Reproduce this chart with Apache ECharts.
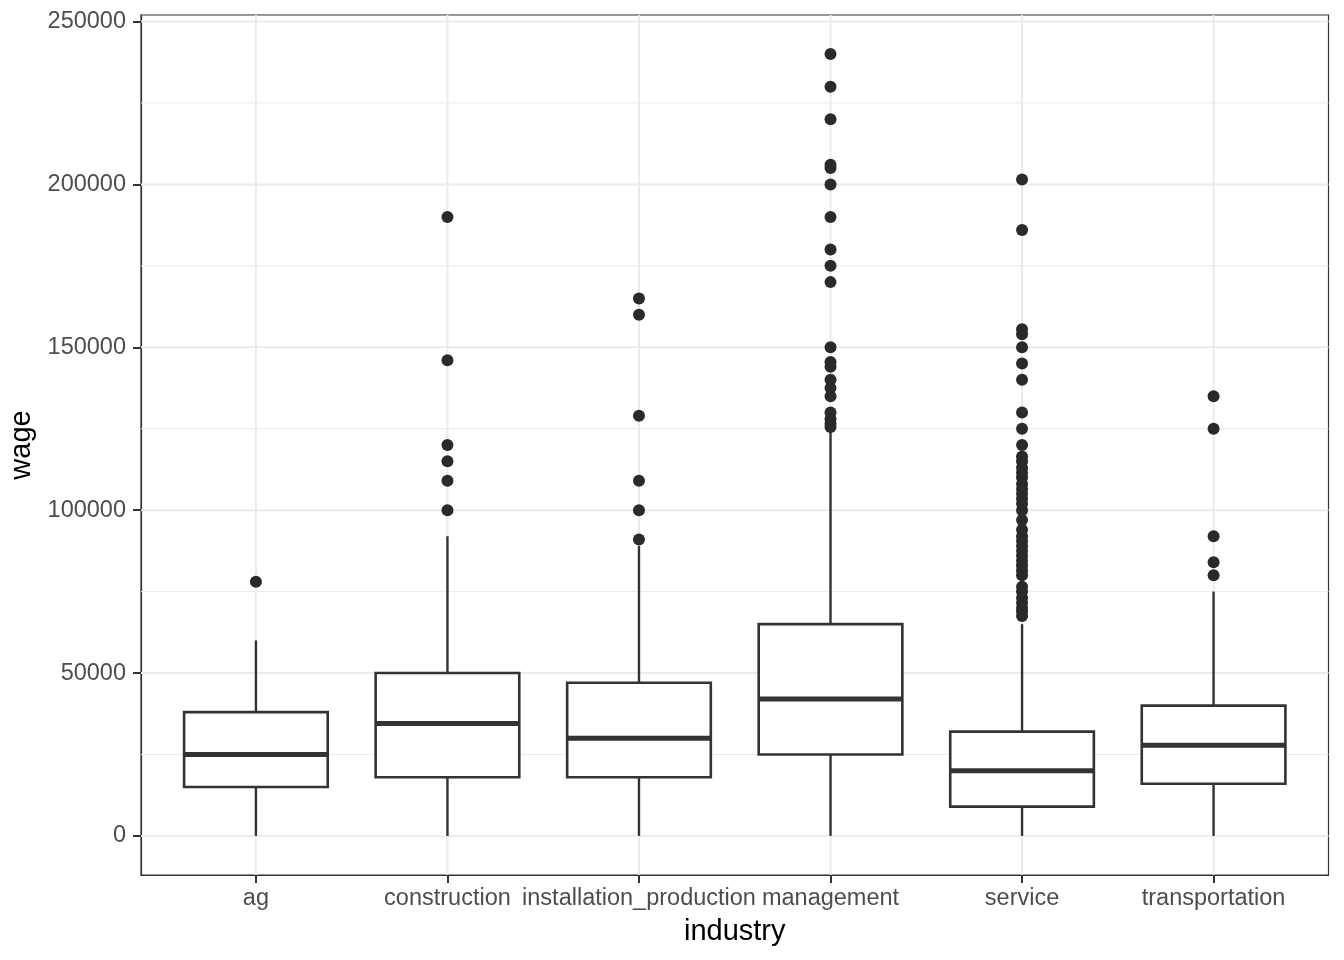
<!DOCTYPE html>
<html>
<head>
<meta charset="utf-8">
<script src="https://cdn.jsdelivr.net/npm/echarts@6/dist/echarts.min.js"></script>
<style>
html, body { margin: 0; padding: 0; background: #ffffff; }
#chart { width: 1344px; height: 960px; }
</style>
</head>
<body>
<div id="chart"></div>
<script>
// ---- data ----
const categories = ['ag', 'construction', 'installation_production', 'management', 'service', 'transportation'];
const lowerWhisker = [0, 0, 0, 0, 0, 0];
const q1 = [15000, 18000, 18000, 25000, 9000, 16000];
const median = [25000, 34500, 30000, 42000, 20000, 27800];
const q3 = [38000, 50000, 47000, 65000, 32000, 40000];
const upperWhisker = [60000, 92000, 89000, 124000, 65000, 75000];

const outliersAg = [78000];
const outliersConstruction = [100000, 109000, 115000, 120000, 146000, 190000];
const outliersInstallation = [91000, 100000, 109000, 129000, 160000, 165000];
const outliersManagement = [125500, 126500, 128000, 130000, 135000, 137500, 140000, 144000, 145500, 150000,
  170000, 175000, 180000, 190000, 200000, 205000, 206000, 220000, 230000, 240000];
const outliersService = [67500, 69000, 70000, 71500, 73000, 75000, 76500,
  80000, 81500, 83000, 84500, 86000, 87500, 89000, 90500, 92000, 94000,
  97000, 100000, 102000, 103500, 105000, 106500, 108000, 110000, 111500, 113000, 115000, 116500,
  120000, 125000, 130000, 140000, 145000, 150000, 154000, 155500, 186000, 201500];
const outliersTransportation = [80000, 84000, 92000, 125000, 135000];

const yTickValues = [0, 50000, 100000, 150000, 200000, 250000];
const yMinorGrid = [25000, 75000, 125000, 175000, 225000];
const xTickValues = [1, 2, 3, 4, 5, 6];

// ---- derived ----
const outliers = [outliersAg, outliersConstruction, outliersInstallation, outliersManagement, outliersService, outliersTransportation];
const boxData = categories.map((c, i) => [i + 1, lowerWhisker[i], q1[i], median[i], q3[i], upperWhisker[i]]);
const pointData = [];
outliers.forEach((arr, i) => arr.forEach(v => pointData.push([i + 1, v])));
const gridData = [];
yTickValues.forEach(v => gridData.push([0, v]));
yMinorGrid.forEach(v => gridData.push([1, v]));
xTickValues.forEach(v => gridData.push([2, v]));

const INK = '#333333';
const GRID = '#ebebeb';
const FONT = '"Liberation Sans", Arial, Helvetica, sans-serif';

const chart = echarts.init(document.getElementById('chart'), null, { renderer: 'canvas' });
chart.setOption({
  animation: false,
  backgroundColor: '#ffffff',
  grid: {
    left: 141, right: 15.5, top: 15, bottom: 85,
    outerBoundsMode: 'none', containLabel: false,
    show: true, borderColor: INK, borderWidth: 1.2, backgroundColor: '#ffffff'
  },
  xAxis: {
    type: 'value', min: 0.4, max: 6.6,
    name: 'industry', nameLocation: 'middle', nameGap: 42,
    nameTextStyle: { fontSize: 29, color: '#000000', fontFamily: FONT },
    axisLine: { show: true, onZero: false, lineStyle: { color: INK, width: 1.2 } },
    axisTick: { show: true, customValues: xTickValues, length: 8, lineStyle: { color: INK, width: 2 } },
    axisLabel: {
      customValues: xTickValues, margin: 12, fontSize: 23.5, color: '#4d4d4d', fontFamily: FONT,
      formatter: v => categories[Math.round(v) - 1] || ''
    },
    splitLine: { show: false }
  },
  yAxis: {
    type: 'value', min: -12000, max: 252000,
    name: 'wage', nameLocation: 'middle', nameGap: 83,
    nameTextStyle: { fontSize: 29, color: '#000000', fontFamily: FONT },
    axisLine: { show: true, onZero: false, lineStyle: { color: INK, width: 1.2 } },
    axisTick: { show: true, customValues: yTickValues, length: 8, lineStyle: { color: INK, width: 2 } },
    axisLabel: {
      customValues: yTickValues, margin: 15, fontSize: 23.5, color: '#4d4d4d', fontFamily: FONT,
      formatter: v => String(Math.round(v))
    },
    splitLine: { show: false }
  },
  series: [
    {
      type: 'custom', name: 'grid', z: 1, silent: true,
      data: gridData,
      encode: { x: -1, y: -1 },
      renderItem: function (params, api) {
        const cs = params.coordSys;
        const kind = api.value(0);
        const v = api.value(1);
        if (kind === 2) {
          const p = api.coord([v, 0]);
          return { type: 'line', shape: { x1: p[0], y1: cs.y, x2: p[0], y2: cs.y + cs.height },
            style: { stroke: GRID, lineWidth: 2 } };
        }
        const p = api.coord([1, v]);
        return { type: 'line', shape: { x1: cs.x, y1: p[1], x2: cs.x + cs.width, y2: p[1] },
          style: { stroke: GRID, lineWidth: kind === 0 ? 2 : 1 } };
      }
    },
    {
      type: 'custom', name: 'boxes', z: 2, silent: true,
      data: boxData,
      encode: { x: 0, y: [1, 2, 3, 4, 5] },
      renderItem: function (params, api) {
        const x = api.value(0);
        const lo = api.coord([x, api.value(1)]);
        const b1 = api.coord([x, api.value(2)]);
        const md = api.coord([x, api.value(3)]);
        const b3 = api.coord([x, api.value(4)]);
        const hi = api.coord([x, api.value(5)]);
        const half = api.size([0.75, 0])[0] / 2;
        const cx = lo[0];
        return {
          type: 'group',
          children: [
            { type: 'line', shape: { x1: cx, y1: lo[1], x2: cx, y2: b1[1] }, style: { stroke: INK, lineWidth: 2.4 } },
            { type: 'line', shape: { x1: cx, y1: b3[1], x2: cx, y2: hi[1] }, style: { stroke: INK, lineWidth: 2.4 } },
            { type: 'rect', shape: { x: cx - half, y: b3[1], width: 2 * half, height: b1[1] - b3[1] },
              style: { fill: '#ffffff', stroke: INK, lineWidth: 2.6 } },
            { type: 'line', shape: { x1: cx - half, y1: md[1], x2: cx + half, y2: md[1] },
              style: { stroke: INK, lineWidth: 5 } }
          ]
        };
      }
    },
    {
      type: 'scatter', name: 'outliers', z: 3, silent: true,
      data: pointData,
      symbol: 'circle', symbolSize: 12,
      itemStyle: { color: '#2a2a2a', opacity: 1 }
    }
  ]
});
</script>
</body>
</html>
